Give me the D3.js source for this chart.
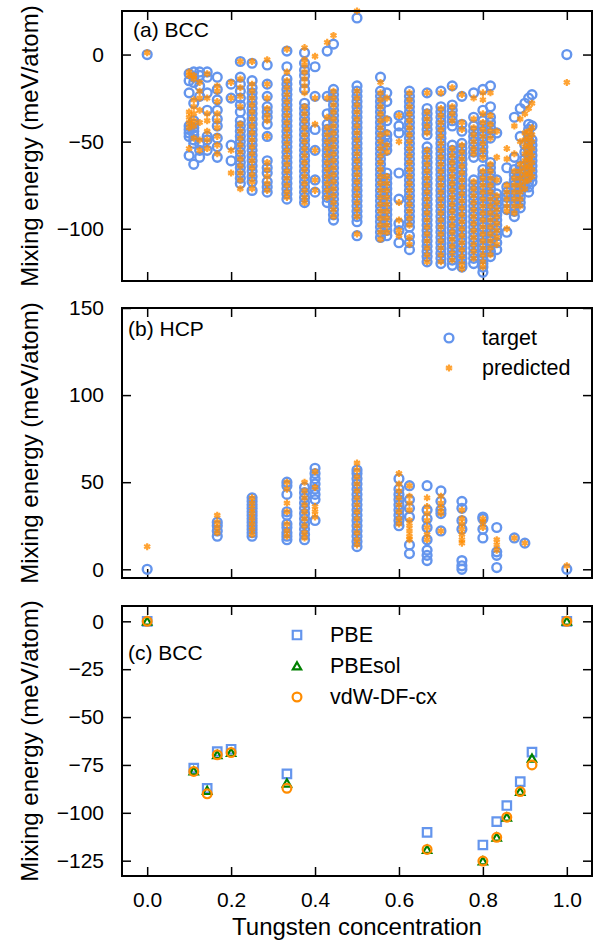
<!DOCTYPE html>
<meta charset="utf-8">
<style>
    body { margin: 0; background: #fff; }
    svg { font-family: "Liberation Sans", Arial, Helvetica, sans-serif; }
    .tick line { stroke: black; stroke-width: 1.5; }
</style>
<body>
<script src="https://cdn.jsdelivr.net/npm/d3@7"></script>
<script>
    // (a) BCC: target vs predicted mixing energies, one list of values per concentration
    const bccConc = [0, 0.1, 0.111, 0.125, 0.143, 0.167, 0.2, 0.222, 0.25, 0.286, 0.333, 0.375, 0.4, 0.429, 0.444, 0.5,
        0.556, 0.571, 0.6, 0.625, 0.667, 0.7, 0.727, 0.75, 0.778, 0.8, 0.818, 0.833, 0.857, 0.875, 0.889, 0.9, 0.909, 0.917, 1];
    const bccTarget = [
        [0],
        [-11, -15, -22, -41, -43, -45, -47, -58],
        [-10, -13, -16, -28, -38, -40, -42, -44, -46, -49, -51, -63],
        [-10, -12, -18, -24, -51, -55, -59],
        [-10, -13, -22, -32, -47, -49, -55],
        [-13, -20, -26, -32, -37, -41, -48, -53, -59],
        [-17, -25, -52, -61],
        [-4, -13, -17, -21, -25, -29, -33, -38, -41, -44, -47, -50, -53, -56, -59, -62, -65, -68, -71, -74],
        [-5, -15, -19, -22, -25, -28, -31, -34, -37, -40, -43, -46, -49, -52, -55, -58, -61, -64, -67, -70, -73, -78],
        [-6, -17, -24, -30, -33, -36, -40, -47, -61, -65, -68, -73, -76, -79],
        [2, -7, -14, -17, -20, -23, -26, -29, -32, -35, -38, -41, -44, -47, -50, -53, -56, -59, -62, -65, -68, -71, -74, -77, -80, -83],
        [1, -5, -9, -12, -16, -20, -28, -31, -34, -37, -40, -43, -46, -49, -52, -55, -58, -61, -64, -67, -70, -73, -76, -79, -82, -85],
        [-7, -24, -43, -55, -72, -79],
        [2, -24, -34, -40, -43, -46, -49, -52, -55, -58, -61, -64, -67, -70, -73, -76, -79, -82, -85],
        [6, -20, -23, -26, -29, -32, -35, -38, -41, -44, -47, -50, -53, -56, -59, -62, -65, -68, -71, -74, -77, -80, -83, -86, -89, -92, -95],
        [21, -18, -21, -24, -27, -30, -33, -36, -39, -42, -45, -48, -51, -54, -57, -60, -63, -66, -69, -72, -75, -78, -81, -84, -87, -90, -93, -96, -104],
        [-13, -21, -24, -27, -30, -33, -36, -39, -42, -45, -48, -51, -54, -57, -60, -63, -66, -69, -72, -75, -78, -81, -84, -87, -90, -93, -96, -99, -102, -105],
        [-22, -27, -38, -46, -49, -52, -55, -68, -71, -74, -77, -80, -83, -86, -89, -92, -95, -98, -101, -104],
        [-35, -41, -45, -68, -83, -97, -101, -108],
        [-21, -24, -27, -30, -33, -36, -39, -42, -45, -48, -51, -54, -57, -60, -63, -66, -69, -72, -75, -78, -81, -84, -87, -90, -93, -96, -99, -104, -108, -112],
        [-22, -31, -34, -37, -40, -43, -46, -53, -56, -59, -62, -65, -68, -71, -74, -77, -80, -83, -86, -89, -92, -95, -98, -101, -104, -107, -110, -113, -116, -119],
        [-21, -30, -33, -36, -39, -42, -45, -48, -51, -54, -57, -60, -63, -66, -69, -72, -75, -78, -81, -84, -87, -90, -93, -96, -99, -102, -105, -108, -111, -114, -117, -120],
        [-18, -29, -32, -35, -38, -41, -52, -55, -58, -61, -64, -67, -70, -73, -76, -79, -82, -85, -88, -91, -94, -97, -100, -103, -106, -109, -112, -115, -118, -121],
        [-24, -40, -44, -51, -54, -57, -60, -63, -66, -69, -72, -75, -78, -81, -84, -87, -90, -93, -96, -99, -102, -105, -108, -111, -114, -117, -120, -122],
        [-22, -36, -41, -44, -47, -50, -53, -56, -59, -72, -75, -78, -81, -84, -87, -90, -93, -96, -99, -102, -105, -108, -111, -114, -117, -120],
        [-20, -32, -38, -41, -44, -47, -50, -53, -56, -59, -66, -69, -72, -75, -78, -81, -84, -87, -90, -93, -96, -99, -102, -105, -108, -111, -114, -117, -120, -122, -125],
        [-18, -30, -36, -39, -42, -45, -48, -62, -65, -68, -71, -74, -77, -80, -83, -86, -89, -92, -95, -98, -101, -104, -107, -110, -113, -116],
        [-45, -72, -80, -83, -86, -89, -92, -95, -98, -101, -104, -108, -112],
        [-65, -76, -79, -82, -85, -89, -102],
        [-36, -59, -66, -69, -72, -75, -78, -81, -84, -87, -90, -93],
        [-31, -47, -64, -67, -70, -73, -76, -79, -82, -85, -88],
        [-28, -52, -56, -60, -64, -68, -72, -76],
        [-25, -40, -43, -46, -49, -52, -55, -58, -61, -64, -67, -70, -73, -76, -79],
        [-23, -41, -49, -52, -55, -58, -61, -64, -67, -70, -73],
        [0]
    ];
    const bccPredicted = [
        [1],
        [-10, -12, -33, -36, -39, -42, -54],
        [-12, -14, -26, -30, -34, -38, -41, -48],
        [-16, -21, -25, -32, -39, -49, -55],
        [-11, -25, -34, -38, -44, -49, -54],
        [-18, -21, -27, -34, -38, -42, -47, -52, -57],
        [-16, -25, -55, -68],
        [-4, -14, -19, -24, -30, -40, -44, -48, -52, -56, -60, -64, -68, -72, -77],
        [-4, -17, -21, -25, -29, -33, -37, -41, -45, -49, -53, -57, -61, -65, -69, -73, -77],
        [-3, -17, -25, -31, -35, -38, -47, -62, -66, -70, -74, -78],
        [3, -10, -15, -19, -23, -27, -31, -35, -39, -43, -47, -51, -55, -59, -63, -67, -71, -75, -79, -82],
        [4, -3, -6, -10, -14, -18, -22, -30, -34, -38, -42, -46, -50, -54, -58, -62, -66, -70, -74, -78, -82, -85],
        [-1, -25, -40, -55, -72, -78],
        [7, -25, -36, -42, -46, -50, -54, -58, -62, -66, -70, -74, -78, -82],
        [11, -21, -25, -29, -33, -37, -41, -45, -49, -53, -57, -61, -65, -69, -73, -77, -81, -85, -89, -93],
        [25, -21, -25, -29, -33, -37, -41, -45, -49, -53, -57, -61, -65, -69, -73, -77, -81, -85, -89, -93, -103],
        [-16, -22, -26, -30, -34, -38, -42, -46, -50, -54, -58, -62, -66, -70, -74, -78, -82, -86, -90, -94, -98, -102, -106],
        [-25, -37, -45, -52, -56, -70, -74, -78, -82, -86, -90, -94, -98, -102],
        [-35, -50, -85, -95, -101, -104],
        [-22, -26, -30, -34, -38, -42, -46, -50, -54, -58, -62, -66, -70, -74, -78, -82, -86, -90, -94, -98, -105, -109],
        [-22, -33, -37, -41, -45, -55, -59, -63, -67, -71, -75, -79, -83, -87, -91, -95, -99, -103, -107, -111, -115, -119],
        [-22, -31, -35, -39, -43, -47, -51, -55, -59, -63, -67, -71, -75, -79, -83, -87, -91, -95, -99, -103, -107, -111, -115, -119],
        [-19, -30, -34, -38, -54, -58, -62, -66, -70, -74, -78, -82, -86, -90, -94, -98, -102, -106, -110, -114, -118],
        [-23, -39, -43, -52, -56, -60, -64, -68, -72, -76, -80, -84, -88, -92, -96, -100, -104, -108, -112, -116, -120, -123],
        [-25, -37, -42, -46, -50, -54, -57, -73, -77, -81, -85, -89, -93, -97, -101, -105, -109, -113, -117],
        [-22, -26, -34, -39, -43, -47, -51, -55, -59, -67, -71, -75, -79, -83, -87, -91, -95, -99, -103, -107, -111, -115, -119, -122],
        [-22, -35, -40, -44, -48, -63, -67, -71, -75, -79, -83, -87, -91, -95, -99, -103, -107, -111, -115],
        [-44, -59, -72, -81, -85, -89, -93, -97, -101, -105, -109],
        [-54, -60, -75, -79, -83, -87, -90, -100],
        [-41, -57, -67, -71, -75, -79, -83, -87, -91],
        [-37, -50, -63, -67, -71, -75, -79, -83, -87],
        [-34, -45, -49, -53, -57, -61, -65, -69, -73, -77],
        [-31, -44, -48, -52, -56, -60, -64, -68, -72],
        [-28, -42, -46, -50, -54, -58, -62, -66, -70],
        [-16]
    ];

    // (b) HCP
    const hcpConc = [0, 0.167, 0.25, 0.333, 0.375, 0.4, 0.5, 0.6, 0.625, 0.667, 0.7, 0.75, 0.8, 0.833, 0.875, 0.9, 1];
    const hcpTarget = [
        [0],
        [19, 22, 25, 27],
        [19, 21, 23, 25, 27, 29, 31, 33, 35, 37, 39, 41],
        [50, 48, 43, 33, 31, 26, 24, 21, 19, 17],
        [17, 20, 23, 26, 29, 32, 35, 38, 41, 44, 47],
        [58, 55, 52, 49, 46, 43, 40, 28],
        [13, 16, 19, 22, 25, 28, 31, 34, 37, 40, 43, 46, 49, 52, 55, 57],
        [52, 46, 43, 40, 37, 34, 31, 28, 25],
        [48, 40, 35, 30, 14, 9],
        [48, 34, 29, 24, 17, 11, 8, 5],
        [45, 39, 34, 32, 22],
        [39, 35, 28, 23, 5, 2, 0],
        [30, 29, 23, 18],
        [24, 10, 8, 1],
        [18],
        [15],
        [0]
    ];
    const hcpPredicted = [
        [13],
        [31, 27, 24, 21],
        [20, 23, 26, 29, 32, 35, 38, 41],
        [50, 46, 38, 33, 26, 22, 19],
        [50, 45, 41, 37, 33, 29, 25, 21, 18],
        [56, 47, 36, 33, 30],
        [61, 57, 53, 49, 45, 41, 37, 33, 29, 25, 21, 17, 14],
        [55, 49, 45, 41, 37, 33, 29, 26],
        [48, 42, 38, 34, 28, 25, 22, 19, 17],
        [41, 36, 32, 28, 24, 20, 17],
        [42, 38, 35, 32, 22],
        [34, 29, 26, 23, 20, 17, 15],
        [29, 27, 24],
        [17, 14, 11],
        [18],
        [15],
        [2]
    ];

    // (c) BCC, DFT functionals
    const dftConc = [0, 0.111, 0.143, 0.167, 0.2, 0.333, 0.667, 0.8, 0.833, 0.857, 0.889, 0.917, 1];
    const pbe = [0, -76.7, -87.2, -68, -66.8, -79.7, -110.2, -116.8, -104.6, -96.2, -83.7, -68.3, 0];
    const pbesol = [0, -78.2, -88.4, -69.7, -68.5, -84.5, -119.1, -125.2, -112.8, -102.3, -88.9, -71.5, 0];
    const vdw = [0, -78.4, -90.1, -69.7, -68.5, -87.2, -119.1, -125.2, -112.8, -102.3, -88.9, -75, 0];

    const xTicks = [0, 0.2, 0.4, 0.6, 0.8, 1.0];
    const aTicks = [0, -50, -100];
    const bTicks = [0, 50, 100, 150];
    const cTicks = [0, -25, -50, -75, -100, -125];

    const W = 601, H = 949;
    const left = 122, right = 592;
    const blue = "#6495ED", orange = "#FF8C00", green = "#008000";

    const svg = d3.select("body").append("svg").attr("width", W).attr("height", H);

    const x = d3.scaleLinear().domain([-0.06, 1.06]).range([left, right]);

    const panels = [
        {top: 11, bottom: 281, domain: [-130, 25], ticks: aTicks, label: "(a) BCC", lx: 133, ly: 26},
        {top: 308, bottom: 578, domain: [-5, 150], ticks: bTicks, label: "(b) HCP", lx: 128, ly: 28},
        {top: 606, bottom: 876, domain: [-133, 8], ticks: cTicks, label: "(c) BCC", lx: 128, ly: 54}
    ];

    const flat = (conc, vals) => conc.flatMap((c, i) => vals[i].map(v => [c, v]));
    const asterisk = d3.symbol().type(d3.symbolAsterisk).size(34)();

    panels.forEach((p, k) => {
        p.y = d3.scaleLinear().domain(p.domain).range([p.bottom, p.top]);
        const g = svg.append("g");

        // axes with inward ticks
        g.append("g").attr("transform", `translate(${left},0)`)
            .call(d3.axisLeft(p.y).tickValues(p.ticks).tickSizeInner(-9).tickSizeOuter(0).tickPadding(18))
            .call(a => a.select(".domain").remove())
            .selectAll("text").style("font-size", "21px").attr("fill", "black");
        g.append("g").attr("transform", `translate(${right},0)`)
            .call(d3.axisRight(p.y).tickValues(p.ticks).tickSizeInner(-9).tickSizeOuter(0).tickFormat(""))
            .call(a => a.select(".domain").remove());
        g.append("g").attr("transform", `translate(0,${p.top})`)
            .call(d3.axisTop(x).tickValues(xTicks).tickSizeInner(-9).tickSizeOuter(0).tickFormat(""))
            .call(a => a.select(".domain").remove());
        const xb = g.append("g").attr("transform", `translate(0,${p.bottom})`)
            .call(d3.axisBottom(x).tickValues(xTicks).tickSizeInner(-9).tickSizeOuter(0).tickPadding(16)
                .tickFormat(k === 2 ? d3.format(".1f") : ""))
            .call(a => a.select(".domain").remove());
        xb.selectAll("text").style("font-size", "21px").attr("fill", "black");

        g.append("text")
            .attr("transform", `translate(38,${(p.top + p.bottom) / 2}) rotate(-90)`)
            .attr("text-anchor", "middle")
            .style("font-size", "24px")
            .text("Mixing energy (meV/atom)");

        g.append("text").attr("x", p.lx).attr("y", p.top + p.ly)
            .style("font-size", "21px").text(p.label);
    });

    // (a) and (b) scatter: targets then predictions on top
    [[panels[0], bccConc, bccTarget, bccPredicted], [panels[1], hcpConc, hcpTarget, hcpPredicted]]
        .forEach(([p, conc, tgt, pred]) => {
            const g = svg.append("g");
            g.selectAll("circle").data(flat(conc, tgt)).enter().append("circle")
                .attr("cx", d => x(d[0])).attr("cy", d => p.y(d[1])).attr("r", 4.4)
                .attr("fill", "none").attr("stroke", blue).attr("stroke-width", 2.4);
            g.selectAll("path").data(flat(conc, pred)).enter().append("path")
                .attr("d", asterisk)
                .attr("transform", d => `translate(${x(d[0])},${p.y(d[1])})`)
                .attr("fill", "none").attr("stroke", orange).attr("stroke-width", 2.2)
                .attr("stroke-opacity", 0.8);
        });

    // (c) DFT functionals
    const pc = panels[2];
    const gc = svg.append("g");
    const sq = d3.symbol().type(d3.symbolSquare).size(72)();
    const tri = d3.symbol().type(d3.symbolTriangle).size(30)();
    gc.selectAll(".pbe").data(dftConc).enter().append("path").attr("class", "pbe")
        .attr("d", sq).attr("transform", (c, i) => `translate(${x(c)},${pc.y(pbe[i])})`)
        .attr("fill", "none").attr("stroke", blue).attr("stroke-width", 2.2);
    gc.selectAll(".sol").data(dftConc).enter().append("path").attr("class", "sol")
        .attr("d", tri).attr("transform", (c, i) => `translate(${x(c)},${pc.y(pbesol[i]) + 1})`)
        .attr("fill", "none").attr("stroke", green).attr("stroke-width", 2.2);
    gc.selectAll(".vdw").data(dftConc).enter().append("circle").attr("class", "vdw")
        .attr("cx", c => x(c)).attr("cy", (c, i) => pc.y(vdw[i])).attr("r", 4.4)
        .attr("fill", "none").attr("stroke", orange).attr("stroke-width", 2.2);

    // legends
    const legB = svg.append("g").style("font-size", "21.5px");
    legB.append("circle").attr("cx", 449).attr("cy", 338).attr("r", 4.4)
        .attr("fill", "none").attr("stroke", blue).attr("stroke-width", 2.4);
    legB.append("text").attr("x", 482).attr("y", 345).text("target");
    legB.append("path").attr("d", asterisk).attr("transform", "translate(449,368)")
        .attr("fill", "none").attr("stroke", orange).attr("stroke-width", 2.2).attr("stroke-opacity", 0.8);
    legB.append("text").attr("x", 482).attr("y", 375).text("predicted");

    const legC = svg.append("g").style("font-size", "21.5px");
    legC.append("path").attr("d", sq).attr("transform", "translate(297,635)")
        .attr("fill", "none").attr("stroke", blue).attr("stroke-width", 2.2);
    legC.append("text").attr("x", 330).attr("y", 642).text("PBE");
    legC.append("path").attr("d", tri).attr("transform", "translate(297,667)")
        .attr("fill", "none").attr("stroke", green).attr("stroke-width", 2.2);
    legC.append("text").attr("x", 330).attr("y", 673).text("PBEsol");
    legC.append("circle").attr("cx", 297).attr("cy", 697).attr("r", 4.4)
        .attr("fill", "none").attr("stroke", orange).attr("stroke-width", 2.2);
    legC.append("text").attr("x", 330).attr("y", 704).text("vdW-DF-cx");

    // frames on top
    panels.forEach(p => {
        svg.append("rect").attr("x", left).attr("y", p.top)
            .attr("width", right - left).attr("height", p.bottom - p.top)
            .attr("fill", "none").attr("stroke", "black").attr("stroke-width", 2);
    });

    svg.append("text").attr("x", (left + right) / 2).attr("y", 935)
        .attr("text-anchor", "middle").style("font-size", "24px")
        .text("Tungsten concentration");
</script>
</body>
</html>
